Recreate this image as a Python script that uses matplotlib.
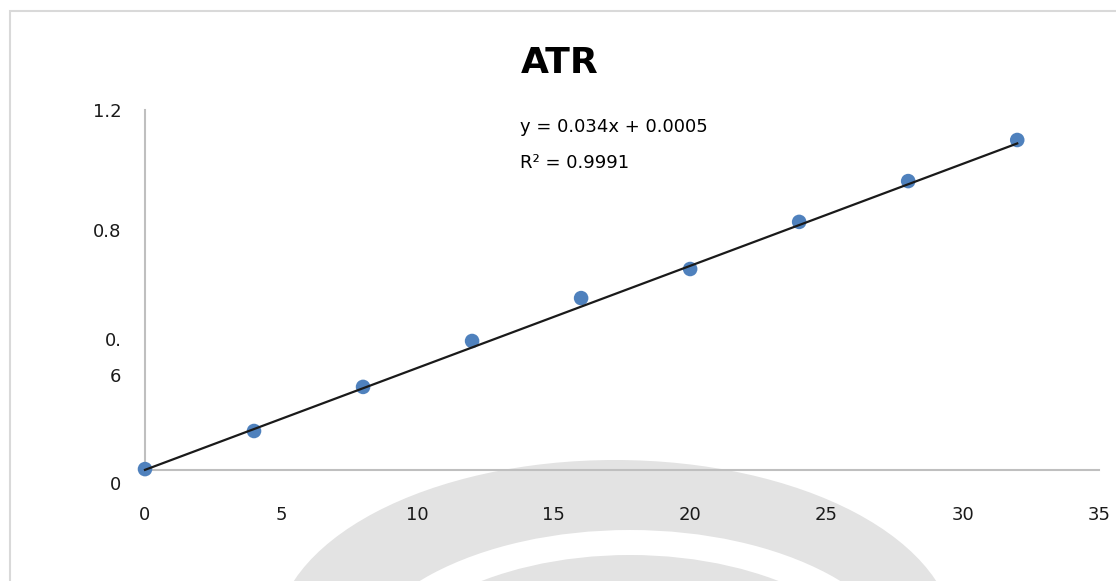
import matplotlib.pyplot as plt
from matplotlib.patches import Rectangle, Ellipse
from matplotlib.transforms import ScaledTranslation

# data
x_conc = [0, 4, 8, 12, 16, 20, 24, 28, 32]
y_abs = [0.003, 0.13, 0.277, 0.43, 0.573, 0.67, 0.827, 0.963, 1.10]

slope = 0.034
intercept = 0.0005
r_squared = "0.9991"

x_ticks = [0, 5, 10, 15, 20, 25, 30, 35]
y_ticks = [0, 0.4, 0.8, 1.2]
y_tick_labels = ["0", "0.\n6", "0.8", "1.2"]

W, H = 1116, 581
fig = plt.figure(figsize=(W / 100, H / 100), dpi=100)


def px_box(x, y):
    # pixel coords (from top-left) -> figure fraction
    return x / W, 1 - y / H


# faint watermark emblem behind the chart
for (cx, cy, w, h, col) in [(615, 640, 680, 360, "#e3e3e3"),
                            (630, 680, 560, 300, "#ffffff"),
                            (630, 700, 520, 290, "#e3e3e3")]:
    fig.patches.append(Ellipse(px_box(cx, cy), w / W, h / H,
                               transform=fig.transFigure, color=col,
                               linewidth=0, zorder=-1))

# chart area border (cut by the image edge)
fig.patches.append(Rectangle((10 / W, -0.1), 1.2, 1 - 11 / H + 0.1,
                             transform=fig.transFigure, fill=False,
                             edgecolor="#d9d9d9", linewidth=1.5))

ax = fig.add_axes([145 / W, 1 - 470 / H, (1099 - 145) / W, (470 - 110) / H])
ax.patch.set_alpha(0)

ax.scatter(x_conc, y_abs, s=110, color="#4f81bd", zorder=3,
           edgecolors="none", clip_on=False)

# trendline
x_line = [x_conc[0], x_conc[-1]]
y_line = [slope * v + intercept for v in x_line]
ax.plot(x_line, y_line, color="#1a1a1a", linewidth=1.6, zorder=4, clip_on=False)

ax.set_xlim(0, 35)
ax.set_ylim(0, 1.2)
ax.set_xticks(x_ticks)
ax.set_yticks(y_ticks)
ax.set_yticklabels(y_tick_labels, multialignment="right", linespacing=2.3)

ax.tick_params(axis="both", length=0, labelsize=13, colors="#1a1a1a")
ax.tick_params(axis="y", pad=17)
ax.tick_params(axis="x", pad=26)

# the bottom "0" label sits lower in the original
lbl0 = ax.get_yticklabels()[0]
lbl0.set_transform(lbl0.get_transform() + ScaledTranslation(0, -9 / 72, fig.dpi_scale_trans))
lbl6 = ax.get_yticklabels()[1]
lbl6.set_transform(lbl6.get_transform() + ScaledTranslation(0, 1.5 / 72, fig.dpi_scale_trans))

for side in ["top", "right"]:
    ax.spines[side].set_visible(False)
for side in ["left", "bottom"]:
    ax.spines[side].set_color("#bfbfbf")
    ax.spines[side].set_linewidth(1.5)

fig.text(560 / W, 1 - 63 / H, "ATR", ha="center", va="center",
         fontsize=26, fontweight="bold")

ax.text(13.75, 1.145, f"y = {slope}x + {intercept}", fontsize=13, va="center")
ax.text(13.75, 1.025, f"R² = {r_squared}", fontsize=13, va="center")

fig.savefig("out.png", dpi=100)
